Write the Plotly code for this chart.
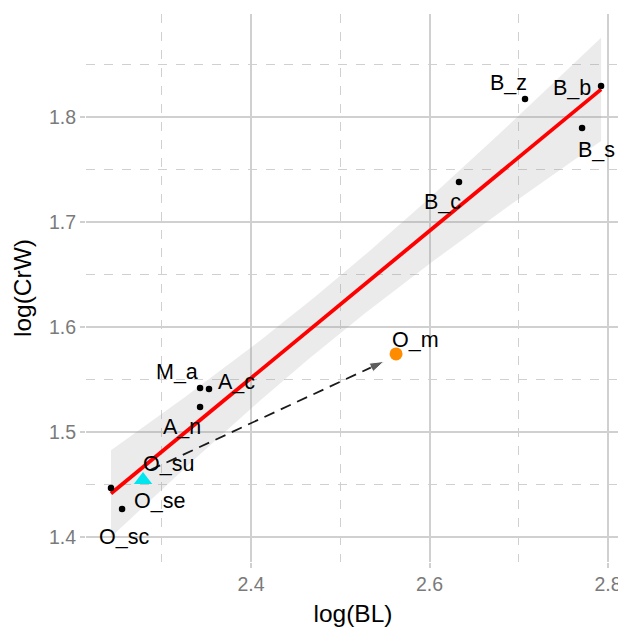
import numpy as np
import plotly.graph_objects as go

# data
species = ["O_se", "O_sc", "A_n", "M_a", "A_c", "B_c", "B_z", "B_b", "B_s"]
log_bl = [2.2431, 2.2555, 2.3429, 2.3429, 2.3529, 2.633, 2.707, 2.7922, 2.7709]
log_crw = [1.4464, 1.4264, 1.5237, 1.5418, 1.5409, 1.7384, 1.8175, 1.8299, 1.7899]

su_name = "O_su"
su_x = [2.279]
su_y = [1.4541]

m_name = "O_m"
m_x = [2.5625]
m_y = [1.5743]

# label positions (repelled text)
label_names = ["O_sc", "O_se", "O_su", "A_n", "M_a", "A_c", "B_c", "B_z", "B_b", "B_s", "O_m"]
label_x = [2.258, 2.297, 2.307, 2.3227, 2.317, 2.384, 2.614, 2.688, 2.760, 2.787, 2.584]
label_y = [1.400, 1.434, 1.4695, 1.5048, 1.557, 1.5476, 1.719, 1.833, 1.8276, 1.7686, 1.5876]

arrow_x = [2.287, 2.549]
arrow_y = [1.4636, 1.5672]

# linear model (all specimens) with 95% CI
x = np.array(log_bl + su_x + m_x)
y = np.array(log_crw + su_y + m_y)
n = len(x)
b1, b0 = np.polyfit(x, y, 1)
resid = y - (b0 + b1 * x)
s = np.sqrt(np.sum(resid ** 2) / (n - 2))
sxx = np.sum((x - x.mean()) ** 2)
t_crit = 2.2622  # t(0.975, df=9)
xs = np.linspace(x.min(), x.max(), 80)
fit = b0 + b1 * xs
se = s * np.sqrt(1.0 / n + (xs - x.mean()) ** 2 / sxx)
lo = fit - t_crit * se
hi = fit + t_crit * se

fig = go.Figure()
fig.add_trace(go.Scatter(x=np.concatenate([xs, xs[::-1]]), y=np.concatenate([hi, lo[::-1]]),
                         fill="toself", fillcolor="rgba(153,153,153,0.2)", line=dict(width=0),
                         mode="lines", hoverinfo="skip", showlegend=False))
fig.add_trace(go.Scatter(x=xs, y=fit, mode="lines", line=dict(color="#ff0000", width=3.8),
                         showlegend=False))
fig.add_trace(go.Scatter(x=log_bl, y=log_crw, mode="markers",
                         marker=dict(color="black", size=6.5), showlegend=False))
fig.add_trace(go.Scatter(x=arrow_x, y=arrow_y, mode="lines+markers",
                         line=dict(color="#1a1a1a", width=1.8, dash="11px,7px"),
                         marker=dict(symbol=["circle", "arrow"], size=[0, 15], angleref="previous",
                                     color="#1a1a1a"),
                         showlegend=False))
fig.add_trace(go.Scatter(x=su_x, y=su_y, mode="markers",
                         marker=dict(color="#00e5ee", size=16, symbol="triangle-up"), showlegend=False))
fig.add_trace(go.Scatter(x=m_x, y=m_y, mode="markers",
                         marker=dict(color="#ff8c00", size=13), showlegend=False))

for nm, lx, ly in zip(label_names, label_x, label_y):
    fig.add_annotation(x=lx, y=ly, text=nm, showarrow=False,
                       font=dict(family="Liberation Sans, Arial", size=21.5, color="black"))

grid = "#d0d0d0"
# the page body adds an 8px offset, so the figure is 8px smaller than the window
fig.update_layout(
    width=618, height=620,
    margin=dict(l=78, r=6, t=6, b=66),
    plot_bgcolor="white", paper_bgcolor="white",
    font=dict(family="Liberation Sans, Arial"),
    xaxis=dict(range=[2.2151, 2.8134], dtick=0.2, tick0=2.0, showgrid=True, gridcolor=grid, gridwidth=2,
               zeroline=False, ticks="outside", ticklen=5, tickwidth=2, tickcolor=grid,
               tickfont=dict(size=19.5, color="#7a7a7a"), automargin=False,
               minor=dict(dtick=0.1, tick0=2.0, showgrid=True, gridcolor=grid, gridwidth=1, griddash="dash"),
               title=dict(text="log(BL)", font=dict(size=24.5, color="black"), standoff=10)),
    yaxis=dict(range=[1.3759, 1.8985], dtick=0.1, tick0=1.0, showgrid=True, gridcolor=grid, gridwidth=2,
               zeroline=False, ticks="outside", ticklen=5, tickwidth=2, tickcolor=grid,
               tickfont=dict(size=19.5, color="#7a7a7a"), automargin=False,
               minor=dict(dtick=0.05, tick0=1.0, showgrid=True, gridcolor=grid, gridwidth=1, griddash="dash"),
               title=dict(text="log(CrW)", font=dict(size=24.5, color="black"), standoff=10)),
)
fig.write_html("out.html")
